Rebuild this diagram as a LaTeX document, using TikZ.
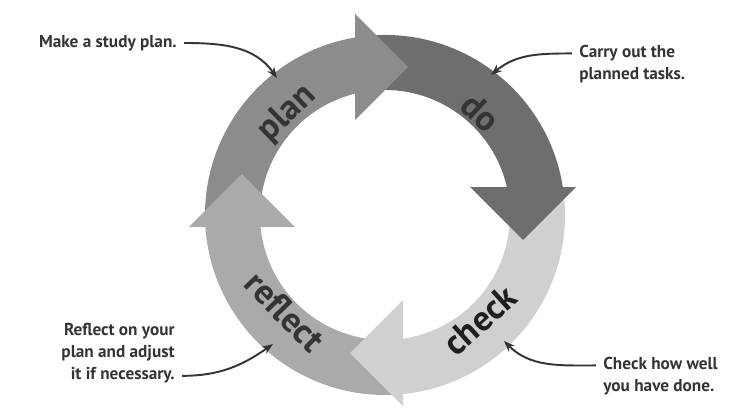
\documentclass[tikz,border=0pt]{standalone}
\usepackage{fontspec}
\setsansfont{PT Sans}
\usepackage{tikz}
\usetikzlibrary{arrows.meta}
\definecolor{cyplan}{RGB}{140,140,140}
\definecolor{cydo}{RGB}{110,110,110}
\definecolor{cycheck}{RGB}{208,208,208}
\definecolor{cyreflect}{RGB}{170,170,170}
\definecolor{cyink}{RGB}{52,52,52}
\definecolor{cyblack}{RGB}{30,30,30}
\tikzset{
  cyword/.style={font=\sffamily\bfseries\fontsize{20}{20}\selectfont, text=cyink, inner sep=0pt},
  cynote/.style={font=\sffamily\bfseries\fontsize{9.8}{12.6}\selectfont, text=cyink, inner sep=0pt},
  cyarr/.style={-{Stealth[length=2.2mm]}, line width=1.1pt, draw=cyink}
}
\begin{document}
\begin{tikzpicture}[x=0.02cm, y=0.02cm]
  \useasboundingbox (-385,-194) rectangle (368,215);
  % bands first, then the heads on top of them
  \foreach \from/\to/\col in {182/98/cyplan, 98/8/cydo, 8/-86/cycheck, -86/-178/cyreflect}
    \fill[\col] (\from:180) arc[start angle=\from, end angle=\to, radius=180]
      -- (\to:125) arc[start angle=\to, end angle=\from, radius=125] -- cycle;
  \foreach \x/\y/\dir/\col in {-30/148/0/cyplan, 138/28/-90/cydo, 18/-138/180/cycheck, -143/-12/90/cyreflect}
    \fill[\col, shift={(\x,\y)}, rotate=\dir] (0,53) -- (0,-53) -- (53,0) -- cycle;
  \node[cyword, rotate=44] (plan) at (134:141) {plan};
  \node[cyword, rotate=-43] (do) at (47:140) {do};
  \node[cyword, text=cyblack, rotate=42] (check) at (-48:142) {check};
  \node[cyword, rotate=-46] (reflect) at (224:139) {reflect};
  % notes
  \node[cynote, anchor=east] (plannote) at (-208,172) {Make a study plan.};
  \node[cynote, anchor=west, align=left] (donote) at (194,151) {Carry out the\\planned tasks.};
  \node[cynote, anchor=west, align=left] (checknote) at (218,-161) {Check how well\\you have done.};
  \node[cynote, anchor=east, align=right] (reflectnote) at (-210,-138) {Reflect on your\\plan and adjust\\it if necessary.};
  \coordinate (plantip) at (-108,137);
  \coordinate (dotip) at (106,140);
  \coordinate (checktip) at (119,-126);
  \coordinate (reflecttip) at (-112,-129);
  \draw[cyarr] ([xshift=4pt]plannote.east) to[out=0, in=125] (plantip);
  \draw[cyarr] ([xshift=-4pt, yshift=6pt]donote.west) to[out=180, in=40] (dotip);
  \draw[cyarr] ([xshift=-4pt, yshift=6pt]checknote.west) to[out=180, in=-45] (checktip);
  \draw[cyarr] ([xshift=4pt, yshift=-13pt]reflectnote.east) to[out=0, in=215] (reflecttip);
\end{tikzpicture}
\end{document}
